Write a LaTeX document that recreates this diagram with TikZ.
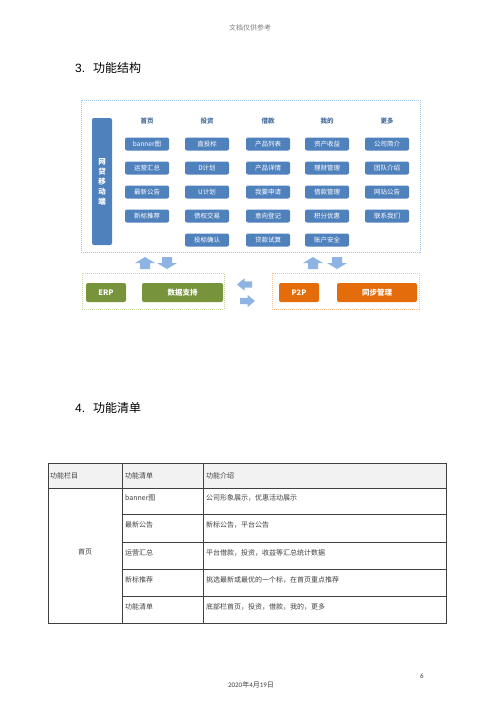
\documentclass[tikz,border=0pt]{standalone}
\usepackage{fontspec}
\setmainfont{Noto Sans CJK SC}
\newfontfamily\latinfont{Liberation Sans}
\newfontfamily\datefont{Carlito}
\usetikzlibrary{positioning}

\definecolor{boxblue}{HTML}{4F81BD}
\definecolor{headblue}{HTML}{4A6E9E}
\definecolor{arrowblue}{HTML}{8EB4E3}
\definecolor{framblue}{HTML}{9DC3E6}
\definecolor{olive}{HTML}{77933C}
\definecolor{olivedash}{HTML}{C3D69B}
\definecolor{orng}{HTML}{E46C0A}
\definecolor{orngdash}{HTML}{FAC090}
\definecolor{rule}{HTML}{404040}
\definecolor{headgray}{HTML}{F2F2F2}

\tikzset{
  sectitle/.style={anchor=west, inner sep=0, font=\fontsize{12}{14}\selectfont},
  frame/.style={draw, dashed, dash pattern=on 1pt off 1pt, line width=0.6pt, inner sep=0},
  colhead/.style={text=headblue, font=\bfseries\fontsize{6.5}{7}\selectfont, inner sep=0},
  fbox/.style={fill=boxblue, rounded corners=2pt, text=white, minimum width=44pt,
    minimum height=13pt, inner sep=0, font=\fontsize{6.5}{7}\selectfont},
  solidbox/.style={rounded corners=2pt, text=white, minimum height=19pt, inner sep=0,
    font=\bfseries\fontsize{7.5}{8}\selectfont},
  blkarrow/.pic={\fill[arrowblue] (-6,-5) -- (0,-5) -- (0,-10) -- (6,0) -- (0,10)
    -- (0,5) -- (-6,5) -- cycle;},
  cell/.style={anchor=west, inner sep=0, text=rule, font=\fontsize{7}{8}\selectfont},
}

\begin{document}
\begin{tikzpicture}[x=1pt, y=-1pt]
    \useasboundingbox[fill=white] (0,0) rectangle (500,707);

    % page header and section title
    \node[text=gray, font=\fontsize{7}{8}\selectfont] (pagehead) at (250,28) {文档仅供参考};
    \node[sectitle] (sec3) at (75,68) {{\latinfont 3.}\hspace{8pt}功能结构};

    % front end frame
    \node[frame, draw=framblue, minimum width=339pt, minimum height=152pt] (front) at (250.5,176) {};
    \node[fill=boxblue, rounded corners=2pt, minimum width=20pt, minimum height=127pt,
      text=white, align=center, font=\bfseries\fontsize{7.5}{10}\selectfont] (app) at (102,181.5)
      {网\\贷\\移\\动\\端};

    % column 1
    \node[colhead] (h1) at (147,121) {首页};
    \foreach \t [count=\i] in {banner图,运营汇总,最新公告,新标推荐}
      \node[fbox] (a\i) at (147,120+24*\i) {\t};

    % column 2
    \node[colhead] (h2) at (207,121) {投资};
    \foreach \t [count=\i] in {直投标,D计划,U计划,债权交易,投标确认}
      \node[fbox] (b\i) at (207,120+24*\i) {\t};

    % column 3
    \node[colhead] (h3) at (268,121) {借款};
    \foreach \t [count=\i] in {产品列表,产品详情,我要申请,意向登记,贷款试算}
      \node[fbox] (c\i) at (268,120+24*\i) {\t};

    % column 4
    \node[colhead] (h4) at (327,121) {我的};
    \foreach \t [count=\i] in {资产收益,理财管理,借款管理,积分优惠,账户安全}
      \node[fbox] (d\i) at (327,120+24*\i) {\t};

    % column 5
    \node[colhead] (h5) at (387,121) {更多};
    \foreach \t [count=\i] in {公司简介,团队介绍,网站公告,联系我们}
      \node[fbox] (e\i) at (387,120+24*\i) {\t};

    % exchange arrows
    \pic[rotate=90] (upL) at (145,263) {blkarrow};
    \pic[rotate=-90] (downL) at (167,263) {blkarrow};
    \pic[rotate=90] (upR) at (313,263) {blkarrow};
    \pic[rotate=-90] (downR) at (337,263) {blkarrow};
    \pic[rotate=180, xscale=1.25, yscale=0.62] (toleft) at (244.5,284.5) {blkarrow};
    \pic[xscale=1.25, yscale=0.62] (toright) at (247.5,301) {blkarrow};

    % ERP side
    \node[frame, draw=olivedash, minimum width=142pt, minimum height=36pt] (erpframe) at (153,291) {};
    \node[solidbox, fill=olive, minimum width=40pt] (erp) at (106,292.5) {ERP};
    \node[solidbox, fill=olive, minimum width=81pt] (data) at (182.5,292.5) {数据支持};

    % P2P side
    \node[frame, draw=orngdash, minimum width=147pt, minimum height=36pt] (p2pframe) at (345.5,291) {};
    \node[solidbox, fill=orng, minimum width=40pt] (p2p) at (299,292.5) {P2P};
    \node[solidbox, fill=orng, minimum width=80pt] (sync) at (377,292.5) {同步管理};

    % function list table
    \node[sectitle] (sec4) at (75,408) {{\latinfont 4.}\hspace{8pt}功能清单};
    \fill[headgray] (48,463) rectangle (446,488);
    \draw[rule, line width=0.8pt] (48,463) rectangle (446,623);
    \draw[rule, line width=0.8pt] (48,488) -- (446,488);
    \foreach \y in {514,542,569,596}
      \draw[rule, line width=0.8pt] (122,\y) -- (446,\y);
    \foreach \x in {122,203}
      \draw[rule, line width=0.8pt] (\x,463) -- (\x,623);

    \node[cell] (th1) at (50,475.5) {功能栏目};
    \node[cell] (th2) at (125,475.5) {功能清单};
    \node[cell] (th3) at (206,475.5) {功能介绍};
    \node[cell, anchor=center] (home) at (85,552) {首页};
    \foreach \y/\n/\d [count=\i] in {498/banner图/公司形象展示，优惠活动展示,
        525/最新公告/新标公告，平台公告,
        552.5/运营汇总/平台借款，投资，收益等汇总统计数据,
        580/新标推荐/挑选最新或最优的一个标，在首页重点推荐,
        607/功能清单/底部栏首页，投资，借款，我的，更多} {
      \node[cell] (item\i) at (125,\y) {\n};
      \node[cell] (desc\i) at (206,\y) {\d};
    }

    % page footer
    \node[text=rule, font=\fontsize{7}{8}\selectfont] (pageno) at (422,676) {\datefont 6};
    \node[text=rule, font=\fontsize{7}{8}\selectfont] (date) at (251,685)
      {{\datefont 2020}年{\datefont 4}月{\datefont 19}日};
\end{tikzpicture}
\end{document}
